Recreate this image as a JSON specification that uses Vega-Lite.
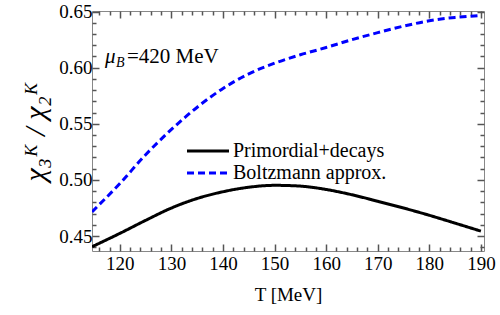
{
  "$schema": "https://vega.github.io/schema/vega-lite/v6.json",
  "width": 392,
  "height": 240,
  "autosize": {"type": "none"},
  "padding": {"left": 92, "top": 11, "right": 16, "bottom": 64},
  "background": "white",
  "config": {
    "view": {"stroke": "#888888", "strokeWidth": 1},
    "font": "Liberation Serif",
    "axis": {"labelFont": "Liberation Serif", "titleFont": "Liberation Serif", "tickColor": "#555555", "tickWidth": 1.5}
  },
  "datasets": {
    "curves": [
      {"T": 114.6, "v": 0.4405, "series": "Primordial+decays"},
      {"T": 120, "v": 0.4524, "series": "Primordial+decays"},
      {"T": 125, "v": 0.4640, "series": "Primordial+decays"},
      {"T": 130, "v": 0.4750, "series": "Primordial+decays"},
      {"T": 135, "v": 0.4835, "series": "Primordial+decays"},
      {"T": 140, "v": 0.4895, "series": "Primordial+decays"},
      {"T": 145, "v": 0.4935, "series": "Primordial+decays"},
      {"T": 150, "v": 0.4952, "series": "Primordial+decays"},
      {"T": 155, "v": 0.4945, "series": "Primordial+decays"},
      {"T": 160, "v": 0.4915, "series": "Primordial+decays"},
      {"T": 165, "v": 0.4868, "series": "Primordial+decays"},
      {"T": 170, "v": 0.4810, "series": "Primordial+decays"},
      {"T": 175, "v": 0.4750, "series": "Primordial+decays"},
      {"T": 180, "v": 0.4685, "series": "Primordial+decays"},
      {"T": 185, "v": 0.4615, "series": "Primordial+decays"},
      {"T": 190, "v": 0.4544, "series": "Primordial+decays"},
      {"T": 114.6, "v": 0.4716, "series": "Boltzmann approx."},
      {"T": 120, "v": 0.4968, "series": "Boltzmann approx."},
      {"T": 125, "v": 0.5225, "series": "Boltzmann approx."},
      {"T": 130, "v": 0.5450, "series": "Boltzmann approx."},
      {"T": 135, "v": 0.5648, "series": "Boltzmann approx."},
      {"T": 140, "v": 0.5815, "series": "Boltzmann approx."},
      {"T": 145, "v": 0.5945, "series": "Boltzmann approx."},
      {"T": 150, "v": 0.6040, "series": "Boltzmann approx."},
      {"T": 155, "v": 0.6115, "series": "Boltzmann approx."},
      {"T": 160, "v": 0.6180, "series": "Boltzmann approx."},
      {"T": 165, "v": 0.6250, "series": "Boltzmann approx."},
      {"T": 170, "v": 0.6312, "series": "Boltzmann approx."},
      {"T": 175, "v": 0.6370, "series": "Boltzmann approx."},
      {"T": 180, "v": 0.6418, "series": "Boltzmann approx."},
      {"T": 185, "v": 0.6448, "series": "Boltzmann approx."},
      {"T": 190, "v": 0.6465, "series": "Boltzmann approx."}
    ],
    "note": [{"T": 117.1, "v": 0.6038}]
  },
  "resolve": {"axis": {"x": "independent", "y": "independent"}},
  "layer": [
    {
      "data": {"name": "curves"},
      "transform": [{"filter": "datum.series === 'Primordial+decays'"}],
      "mark": {"type": "line", "strokeWidth": 3, "clip": true, "interpolate": "monotone"},
      "encoding": {
        "x": {"field": "T", "type": "quantitative", "scale": {"domain": [114.6, 190.6], "nice": false, "zero": false},
          "axis": {"orient": "bottom", "title": "T [MeV]", "titleFont": "Liberation Serif", "titleFontSize": 19, "titleFontWeight": "normal", "titleColor": "black", "titlePadding": 9,
            "values": [116, 118, 120, 122, 124, 126, 128, 130, 132, 134, 136, 138, 140, 142, 144, 146, 148, 150, 152, 154, 156, 158, 160, 162, 164, 166, 168, 170, 172, 174, 176, 178, 180, 182, 184, 186, 188, 190],
            "labelExpr": "datum.value % 10 === 0 ? datum.label : ''", "labelOverlap": false,
            "ticks": true, "tickColor": "#555555", "tickWidth": 1.5,
            "tickSize": {"condition": {"test": "datum.value % 10 === 0", "value": -7}, "value": -4},
            "domain": false, "grid": false,
            "labelFont": "Liberation Serif", "labelFontSize": 19, "labelColor": "black", "labelPadding": 10, "labelFlush": false}},
        "y": {"field": "v", "type": "quantitative", "scale": {"domain": [0.4367, 0.6505], "nice": false, "zero": false},
          "axis": {"orient": "left", "title": "χ₃ᴷ / χ₂ᴷ", "titleFont": "Liberation Serif", "titleFontSize": 30, "titleFontStyle": "italic", "titleFontWeight": "normal", "titleColor": "black", "titlePadding": 8,
            "values": [0.44, 0.45, 0.46, 0.47, 0.48, 0.49, 0.5, 0.51, 0.52, 0.53, 0.54, 0.55, 0.56, 0.57, 0.58, 0.59, 0.6, 0.61, 0.62, 0.63, 0.64, 0.65],
            "labelExpr": "round(datum.value * 100) % 5 === 0 ? format(datum.value, '.2f') : ''", "labelOverlap": false,
            "ticks": true, "tickColor": "#555555", "tickWidth": 1.5,
            "tickSize": {"condition": {"test": "round(datum.value * 100) % 5 === 0", "value": -7}, "value": -4},
            "domain": false, "grid": false,
            "labelFont": "Liberation Serif", "labelFontSize": 19, "labelColor": "black", "labelPadding": 7, "labelFlush": false}},
        "color": {"field": "series", "type": "nominal", "scale": {"domain": ["Primordial+decays", "Boltzmann approx."], "range": ["#000000", "#0000ff"]},
          "legend": {"title": null, "orient": "none", "legendX": 104, "legendY": 128, "symbolType": "M-2,0H2", "symbolSize": 441, "symbolStrokeWidth": 3, "symbolFillColor": "transparent",
            "labelFontSize": 20, "labelFont": "Liberation Serif", "labelColor": "black", "labelLimit": 300, "labelOffset": 13, "rowPadding": 0}},
        "strokeDash": {"field": "series", "type": "nominal", "scale": {"domain": ["Primordial+decays", "Boltzmann approx."], "range": [[1, 0], [7, 4]]},
          "legend": {"title": null, "orient": "none", "legendX": 104, "legendY": 128, "symbolType": "M-2,0H2", "symbolSize": 441, "symbolStrokeWidth": 3, "symbolFillColor": "transparent",
            "labelFontSize": 20, "labelFont": "Liberation Serif", "labelColor": "black", "labelLimit": 300, "labelOffset": 13, "rowPadding": 0}}
      }
    },
    {
      "data": {"name": "curves"},
      "transform": [{"filter": "datum.series === 'Boltzmann approx.'"}],
      "mark": {"type": "line", "strokeWidth": 3, "clip": true, "interpolate": "monotone"},
      "encoding": {
        "x": {"field": "T", "type": "quantitative",
          "axis": {"orient": "top", "title": null, "labels": false, "domain": false, "grid": false,
            "values": [116, 118, 120, 122, 124, 126, 128, 130, 132, 134, 136, 138, 140, 142, 144, 146, 148, 150, 152, 154, 156, 158, 160, 162, 164, 166, 168, 170, 172, 174, 176, 178, 180, 182, 184, 186, 188, 190],
            "ticks": true, "tickColor": "#555555", "tickWidth": 1.5,
            "tickSize": {"condition": {"test": "datum.value % 10 === 0", "value": -7}, "value": -4}}},
        "y": {"field": "v", "type": "quantitative",
          "axis": {"orient": "right", "title": null, "labels": false, "domain": false, "grid": false,
            "values": [0.44, 0.45, 0.46, 0.47, 0.48, 0.49, 0.5, 0.51, 0.52, 0.53, 0.54, 0.55, 0.56, 0.57, 0.58, 0.59, 0.6, 0.61, 0.62, 0.63, 0.64, 0.65],
            "ticks": true, "tickColor": "#555555", "tickWidth": 1.5,
            "tickSize": {"condition": {"test": "round(datum.value * 100) % 5 === 0", "value": -7}, "value": -4}}},
        "color": {"field": "series", "type": "nominal"},
        "strokeDash": {"field": "series", "type": "nominal"}
      }
    },
    {
      "data": {"name": "note"},
      "mark": {"type": "text", "text": "μ", "font": "Liberation Serif", "fontSize": 21, "fontStyle": "italic", "align": "left", "baseline": "alphabetic", "color": "black"},
      "encoding": {
        "x": {"field": "T", "type": "quantitative", "axis": null},
        "y": {"field": "v", "type": "quantitative", "axis": null}
      }
    },
    {
      "data": {"name": "note"},
      "mark": {"type": "text", "text": "B", "font": "Liberation Serif", "fontSize": 14, "fontStyle": "italic", "align": "left", "baseline": "alphabetic", "dx": 11, "dy": 4, "color": "black"},
      "encoding": {
        "x": {"field": "T", "type": "quantitative", "axis": null},
        "y": {"field": "v", "type": "quantitative", "axis": null}
      }
    },
    {
      "data": {"name": "note"},
      "mark": {"type": "text", "text": "=420 MeV", "font": "Liberation Serif", "fontSize": 21, "align": "left", "baseline": "alphabetic", "dx": 22, "color": "black"},
      "encoding": {
        "x": {"field": "T", "type": "quantitative", "axis": null},
        "y": {"field": "v", "type": "quantitative", "axis": null}
      }
    }
  ]
}
